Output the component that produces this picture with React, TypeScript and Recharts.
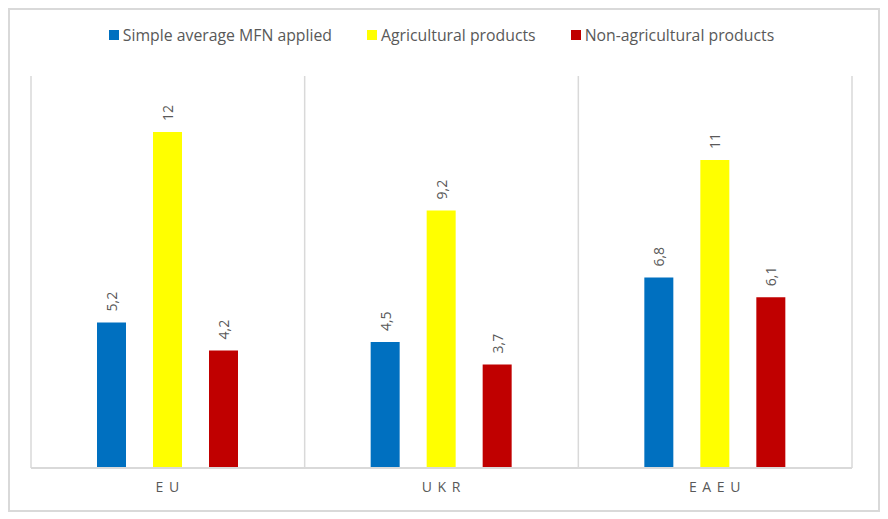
import { Bar, BarChart, CartesianGrid, LabelList, Legend, XAxis, YAxis } from 'recharts';

const regions = ['EU', 'UKR', 'EAEU'];
const mfnApplied = [5.2, 4.5, 6.8];
const agricultural = [12, 9.2, 11];
const nonAgricultural = [4.2, 3.7, 6.1];

const seriesNames = ['Simple average MFN applied', 'Agricultural products', 'Non-agricultural products'];
const seriesColors = ['#0070C0', '#FFFF00', '#C00000'];

const TEXT = '#595959';
const GRID = '#d9d9d9';
const FONT = '"Open Sans", "Noto Sans", sans-serif';

const data = regions.map((r, i) => ({
  region: r.split('').join(' '),
  mfn: mfnApplied[i],
  agri: agricultural[i],
  nonAgri: nonAgricultural[i],
}));

const fmt = (v: number) => String(v).replace('.', ',');

// rotated value label above each bar
function VerticalLabel(props: any) {
  const { x, y, width, value } = props;
  const cx = Number(x) + Number(width) / 2;
  const cy = Number(y) - 11;
  return (
    <text
      x={cx}
      y={cy}
      transform={`rotate(-90 ${cx} ${cy})`}
      textAnchor="start"
      dominantBaseline="central"
      fontSize={14}
      fill={TEXT}
      fontFamily={FONT}
    >
      {fmt(value)}
    </text>
  );
}

function LegendContent() {
  return (
    <div style={{ display: 'flex', justifyContent: 'center', gap: 35, fontFamily: FONT, fontSize: 15.8, color: TEXT }}>
      {seriesNames.map((n, i) => (
        <span key={n} style={{ display: 'flex', alignItems: 'center' }}>
          <span style={{ width: 10, height: 10, background: seriesColors[i], marginRight: 4, display: 'inline-block' }} />
          {n}
        </span>
      ))}
    </div>
  );
}

export default function App() {
  return (
    <div style={{ width: 868, height: 500, border: `2px solid ${GRID}`, background: '#fff' }}>
      <BarChart
        width={868}
        height={500}
        data={data}
        margin={{ top: 44, right: 26, left: 21, bottom: 12 }}
        barSize={29}
        barGap={27}
      >
        <CartesianGrid
          stroke={GRID}
          strokeWidth={1.5}
          horizontal={false}
          verticalCoordinatesGenerator={({ offset }: any) =>
            regions.concat(['']).map((_, i) => offset.left + (i * offset.width) / regions.length)
          }
        />
        <XAxis
          dataKey="region"
          axisLine={{ stroke: GRID, strokeWidth: 2 }}
          tickLine={false}
          height={30}
          tick={{ fill: TEXT, fontSize: 14, fontFamily: FONT, letterSpacing: 1 }}
          tickMargin={8}
        />
        <YAxis hide domain={[0, 14]} />
        <Legend verticalAlign="top" content={<LegendContent />} wrapperStyle={{ top: 14 }} />
        <Bar dataKey="mfn" fill={seriesColors[0]} isAnimationActive={false}>
          <LabelList dataKey="mfn" content={<VerticalLabel />} />
        </Bar>
        <Bar dataKey="agri" fill={seriesColors[1]} isAnimationActive={false}>
          <LabelList dataKey="agri" content={<VerticalLabel />} />
        </Bar>
        <Bar dataKey="nonAgri" fill={seriesColors[2]} isAnimationActive={false}>
          <LabelList dataKey="nonAgri" content={<VerticalLabel />} />
        </Bar>
      </BarChart>
    </div>
  );
}
